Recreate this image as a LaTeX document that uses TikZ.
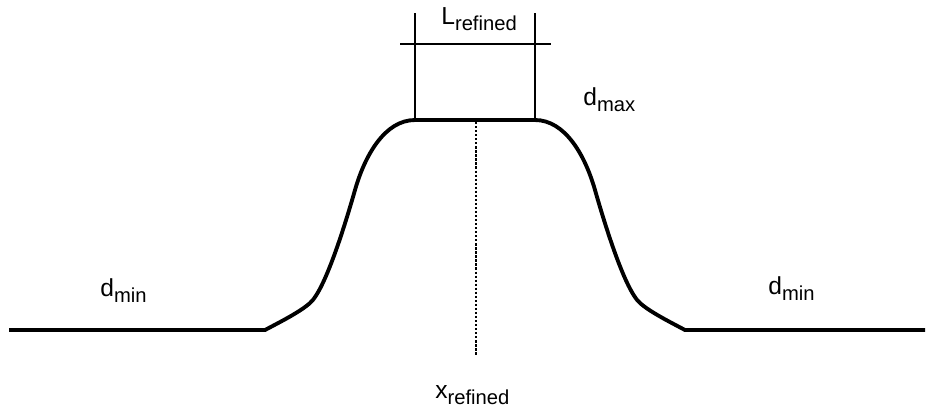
\documentclass[tikz,border=0pt]{standalone}
\usepackage{fontspec}
\setmainfont{Liberation Sans}
\newcommand{\sublbl}[2]{#1\raisebox{-3.5pt}{\fontsize{11.5}{12}\selectfont #2}}
\begin{document}
\begin{tikzpicture}[x=0.02cm, y=-0.02cm,
    profile/.style={line width=2.2pt, line join=round},
    guide/.style={line width=1.1pt},
    centre/.style={line width=1.5pt, dash pattern=on 1.3pt off 1pt},
    lbl/.style={anchor=base west, inner sep=0pt, font=\fontsize{14}{16}\selectfont}]
    \useasboundingbox (0,0) rectangle (933,414);

    \coordinate (L0) at (9,330);
    \coordinate (L1) at (265,330);
    \coordinate (L2) at (310,303);
    \coordinate (L3) at (355,190);
    \coordinate (T0) at (415,120);
    \coordinate (T1) at (535,120);
    \coordinate (R3) at (595,190);
    \coordinate (R2) at (640,303);
    \coordinate (R1) at (685,330);
    \coordinate (R0) at (925,330);

    % refinement profile
    \draw[profile] (L0) -- (L1)
        .. controls (280,322) and (300,312) .. (L2)
        .. controls (325,290) and (345,225) .. (L3)
        .. controls (365,155) and (385,120) .. (T0)
        -- (T1)
        .. controls (565,120) and (585,155) .. (R3)
        .. controls (605,225) and (625,290) .. (R2)
        .. controls (650,312) and (670,322) .. (R1)
        -- (R0);

    % width of the refined zone
    \coordinate (TL) at (415,13);
    \coordinate (TR) at (535,13);
    \coordinate (WL) at (400,44);
    \coordinate (WR) at (551,44);
    \draw[guide] (T0) -- (TL);
    \draw[guide] (T1) -- (TR);
    \draw[guide] (WL) -- (WR);

    % centre of the refined zone
    \coordinate (C0) at (476,122);
    \coordinate (C1) at (476,356);
    \draw[centre] (C0) -- (C1);

    \node[lbl] (lref) at (441,24) {\sublbl{L}{refined}};
    \node[lbl] (dmax) at (583,105) {\sublbl{d}{max}};
    \node[lbl] (dminl) at (100,296) {\sublbl{d}{min}};
    \node[lbl] (dminr) at (768,294) {\sublbl{d}{min}};
    \node[lbl] (xref) at (435,398) {\sublbl{x}{refined}};
\end{tikzpicture}
\end{document}
